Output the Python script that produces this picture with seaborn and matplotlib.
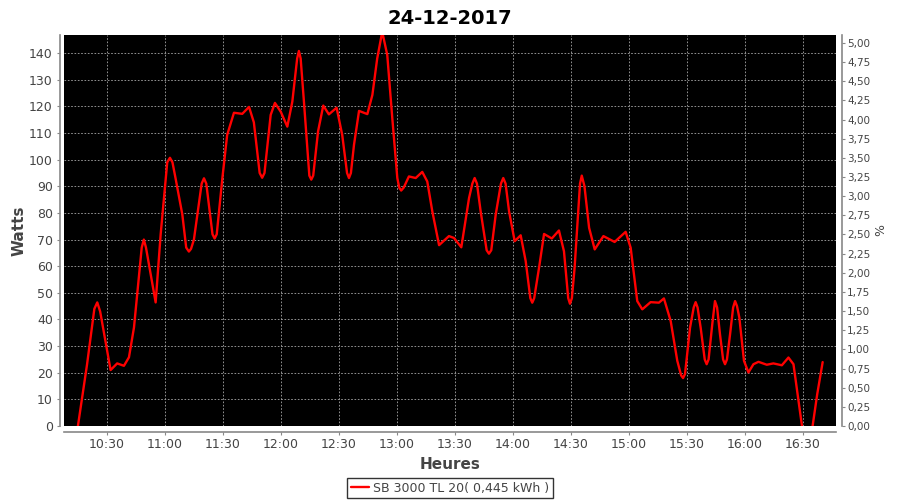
import numpy as np
import pandas as pd
import matplotlib
matplotlib.use("Agg")
import matplotlib.pyplot as plt
import matplotlib.dates as mdates
import matplotlib.ticker as mticker
import seaborn as sns

# production du 24-12-2017
heures = [
    "10:15:00", "10:19:42", "10:23:30", "10:25:00", "10:26:30", "10:31:54", "10:35:18", "10:38:48",
    "10:41:24", "10:44:00", "10:48:00", "10:49:06", "10:50:12", "10:55:12", "10:57:48", "11:00:24",
    "11:01:12", "11:02:36", "11:03:54", "11:05:30", "11:09:00", "11:11:00", "11:12:24", "11:13:30",
    "11:15:00", "11:19:00", "11:20:12", "11:21:24", "11:24:36", "11:25:42", "11:26:48", "11:29:42",
    "11:32:12", "11:35:42", "11:40:00", "11:43:30", "11:46:00", "11:49:00", "11:50:18", "11:51:30",
    "11:54:42", "11:56:54", "11:59:54", "12:03:18", "12:05:54", "12:08:24", "12:09:18", "12:10:12",
    "12:11:54", "12:14:42", "12:15:42", "12:16:42", "12:19:12", "12:21:54", "12:24:48", "12:28:48",
    "12:31:42", "12:34:12", "12:35:12", "12:36:12", "12:37:48", "12:40:24", "12:44:42", "12:47:18",
    "12:49:48", "12:52:24", "12:55:00", "12:57:36", "13:00:12", "13:01:12", "13:02:12", "13:03:30",
    "13:06:12", "13:09:42", "13:13:06", "13:15:42", "13:18:18", "13:21:48", "13:26:54", "13:29:30",
    "13:33:18", "13:37:18", "13:39:00", "13:40:12", "13:41:24", "13:43:18", "13:46:24", "13:47:36",
    "13:48:48", "13:51:06", "13:53:48", "13:55:00", "13:56:12", "13:58:00", "14:00:54", "14:04:00",
    "14:06:36", "14:09:00", "14:10:00", "14:11:00", "14:13:30", "14:16:06", "14:20:06", "14:23:48",
    "14:26:24", "14:28:36", "14:29:30", "14:30:30", "14:31:54", "14:34:42", "14:35:36", "14:37:00",
    "14:39:24", "14:42:18", "14:46:48", "14:52:36", "14:58:18", "15:00:54", "15:04:18", "15:06:54",
    "15:11:12", "15:15:30", "15:18:06", "15:21:36", "15:25:00", "15:27:00", "15:28:00", "15:29:00",
    "15:31:36", "15:33:30", "15:34:30", "15:35:30", "15:37:06", "15:39:12", "15:40:12", "15:41:12",
    "15:43:06", "15:44:30", "15:45:36", "15:47:06", "15:48:42", "15:49:42", "15:50:42", "15:52:18",
    "15:53:54", "15:54:54", "15:55:54", "15:57:06", "15:59:30", "16:01:48", "16:04:24", "16:07:00",
    "16:11:18", "16:14:42", "16:19:06", "16:22:30", "16:25:06", "16:27:12", "16:29:30", "16:32:12",
    "16:35:00", "16:37:24", "16:40:12",
]
watts = [
    0, 23, 44, 46.4, 43, 21, 23.5, 22.6,
    25.8, 37, 67, 70, 67, 46.4, 72, 93,
    99, 100.7, 99, 93, 79.4, 67, 65.5, 66.5,
    70, 91, 93, 91, 72, 70.4, 72, 93,
    109.3, 117.6, 117.2, 119.8, 114, 95, 93.2, 95,
    116.8, 121.3, 118, 112.4, 121.8, 138, 140.8, 138,
    121.8, 94, 92.5, 94, 110.6, 120.3, 117, 119.5,
    109.3, 95, 93.1, 95, 105.6, 118.3, 117.1, 124.3,
    138, 148, 139.3, 115.6, 93.1, 89.5, 88.4, 89.5,
    93.7, 93.1, 95.4, 91.8, 80.6, 67.9, 71.3, 70.6,
    67.1, 85.6, 91, 93.1, 91, 80.6, 66, 64.7,
    66, 79.4, 91, 93.1, 91, 80.6, 69.4, 71.6,
    61.9, 48, 46.3, 48, 59.4, 72.1, 70.4, 73.4,
    65.6, 48, 45.9, 48, 59.4, 91, 94, 90,
    74.4, 66.3, 71.3, 69.1, 72.9, 66.9, 46.9, 43.8,
    46.5, 46.3, 47.9, 39.4, 24.5, 19, 18, 19.5,
    36.9, 44.5, 46.5, 44.5, 36.9, 25, 23.2, 25,
    38.2, 46.9, 44.5, 34.4, 25, 23.2, 25, 34.4,
    44.5, 46.9, 45, 40.7, 24.5, 20.1, 23.2, 24.1,
    23, 23.5, 22.8, 25.7, 23.2, 12, 0, -6,
    0, 12, 24,
]
pct_ticks = np.arange(0, 5.01, 0.25)
titre = "24-12-2017"
serie = "SB 3000 TL 20( 0,445 kWh )"

df = pd.DataFrame({
    "Heures": pd.to_datetime(["2017-12-24 " + h for h in heures]),
    "Watts": watts,
})

sns.set_style("darkgrid", {
    "axes.facecolor": "black",
    "grid.color": "#a8a8a8",
    "grid.linestyle": (0, (2, 2)),
    "axes.edgecolor": "#888888",
})
plt.rcParams["font.family"] = ["DejaVu Sans"]

fig = plt.figure(figsize=(9, 5), dpi=100)
ax = fig.add_axes([64 / 900, 1 - 426 / 500, (836 - 64) / 900, (426 - 35) / 500])

sns.lineplot(data=df, x="Heures", y="Watts", ax=ax, color="red", linewidth=1.7, label=serie)

ax.set_ylim(0, 146.8)
ax.set_xlim(pd.Timestamp("2017-12-24 10:07:48"), pd.Timestamp("2017-12-24 16:47:06"))
ax.yaxis.set_major_locator(mticker.MultipleLocator(10))
ax.xaxis.set_major_locator(mdates.MinuteLocator(byminute=[0, 30]))
ax.xaxis.set_major_formatter(mdates.DateFormatter("%H:%M"))
ax.grid(True, linewidth=0.6)

ax.spines["top"].set_visible(False)
ax.spines["right"].set_visible(False)
ax.spines["left"].set_position(("outward", 3))
ax.spines["bottom"].set_position(("outward", 4))
for s in ["left", "bottom"]:
    ax.spines[s].set_color("#888888")
    ax.spines[s].set_linewidth(1.2)

ax.tick_params(axis="both", which="major", labelsize=9, labelcolor="#444444",
               color="#888888", length=2, width=0.8, pad=3, bottom=True, left=True)
ax.set_xlabel("Heures", fontsize=11, fontweight="bold", color="#444444", labelpad=4)
ax.set_ylabel("Watts", fontsize=11, fontweight="bold", color="#444444", labelpad=2)
ax.set_title(titre, fontsize=14, fontweight="bold", color="black", pad=8)

ax2 = ax.twinx()
ax2.set_ylim(0, 146.8 * 5 / 143.8)
ax2.set_yticks(pct_ticks)
ax2.yaxis.set_major_formatter(mticker.FuncFormatter(lambda v, p: f"{v:.2f}".replace(".", ",")))
ax2.grid(False)
for s in ["top", "left", "bottom"]:
    ax2.spines[s].set_visible(False)
ax2.spines["right"].set_position(("outward", 4))
ax2.spines["right"].set_color("#888888")
ax2.spines["right"].set_linewidth(1.2)
ax2.tick_params(axis="y", labelsize=7.5, labelcolor="#444444", color="#888888",
                length=2, width=0.8, pad=2, right=True)
ax2.set_ylabel("%", fontsize=9, color="#444444", labelpad=3)

leg = ax.legend(loc="upper center", bbox_to_anchor=(0.5, -0.117), frameon=True,
                fontsize=9, handlelength=1.5, handletextpad=0.3, borderpad=0.3,
                fancybox=False, facecolor="white", edgecolor="black")
leg.get_frame().set_linewidth(1.0)
for t in leg.get_texts():
    t.set_color("#444444")

fig.savefig("out.png", dpi=100, facecolor="white")
